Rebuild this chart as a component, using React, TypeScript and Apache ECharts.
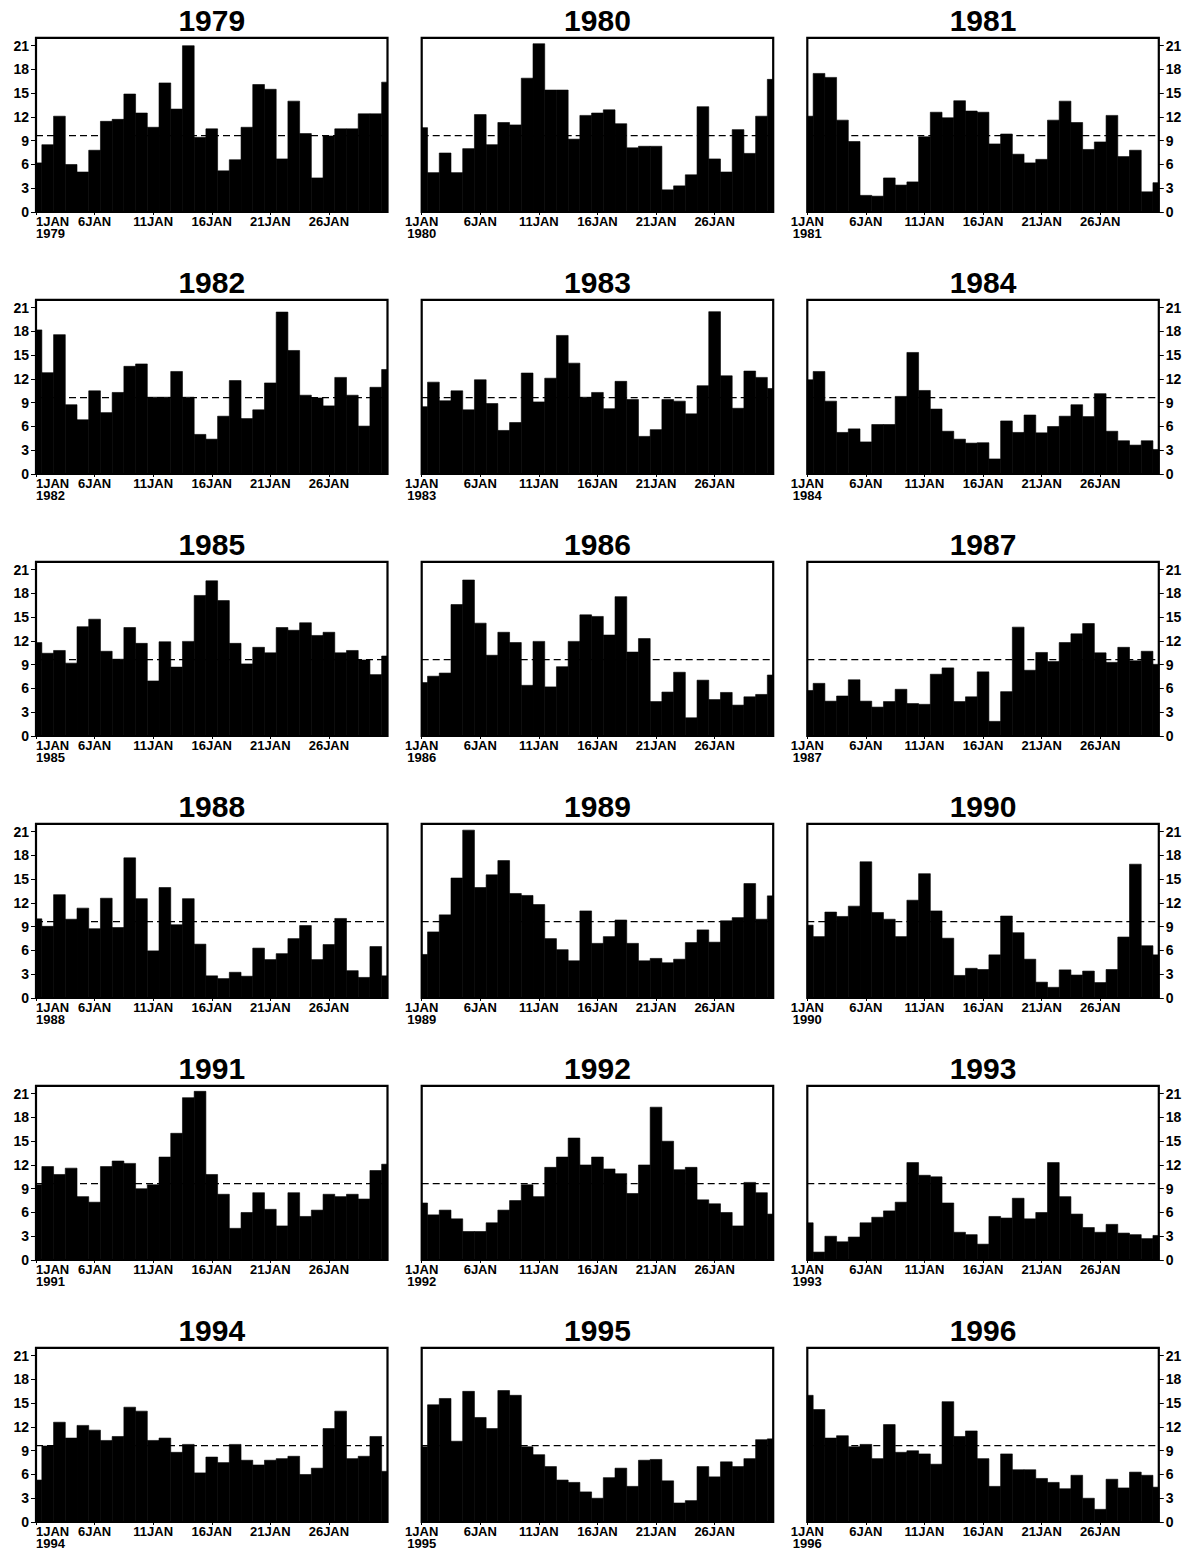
import React, { useEffect, useRef } from "react";
import * as echarts from "echarts";

// ---------- data ----------
const DAYS = [1, 2, 3, 4, 5, 6, 7, 8, 9, 10, 11, 12, 13, 14, 15, 16, 17, 18, 19, 20, 21, 22, 23, 24, 25, 26, 27, 28, 29, 30, 31];
const X_TICKS = [1, 6, 11, 16, 21, 26];
const X_TICK_LABELS = ["1JAN", "6JAN", "11JAN", "16JAN", "21JAN", "26JAN"];
const Y_TICKS = [0, 3, 6, 9, 12, 15, 18, 21];
const CLIM_MEAN = 9.65;
const YEARS = ["1979", "1980", "1981", "1982", "1983", "1984", "1985", "1986", "1987", "1988", "1989", "1990", "1991", "1992", "1993", "1994", "1995", "1996"];

const v1979 = [6.2, 8.5, 12.1, 6.0, 5.05, 7.8, 11.45, 11.7, 14.9, 12.5, 10.7, 16.3, 13.0, 21.0, 9.43, 10.5, 5.2, 6.6, 10.7, 16.1, 15.5, 6.7, 14.0, 9.9, 4.3, 9.6, 10.5, 10.5, 12.4, 12.4, 16.4];
const v1980 = [10.65, 4.97, 7.45, 4.97, 8.0, 12.3, 8.5, 11.3, 11.0, 16.9, 21.25, 15.4, 15.4, 9.2, 12.2, 12.5, 12.9, 11.15, 8.1, 8.3, 8.3, 2.8, 3.3, 4.7, 13.3, 6.7, 5.05, 10.4, 7.4, 12.1, 16.75];
const v1981 = [12.1, 17.5, 17.0, 11.6, 8.9, 2.1, 2.0, 4.3, 3.4, 3.8, 9.5, 12.6, 11.9, 14.05, 12.75, 12.6, 8.6, 9.85, 7.3, 6.2, 6.65, 11.6, 14.0, 11.3, 7.9, 8.85, 12.2, 7.0, 7.8, 2.55, 3.7];
const v1982 = [18.2, 12.8, 17.6, 8.75, 6.85, 10.5, 7.75, 10.3, 13.6, 13.9, 9.7, 9.7, 12.95, 9.7, 5.0, 4.4, 7.3, 11.8, 7.0, 8.1, 11.5, 20.45, 15.6, 9.95, 9.6, 8.6, 12.2, 9.95, 6.05, 10.95, 13.2];
const v1983 = [8.5, 11.6, 9.25, 10.5, 8.1, 11.9, 8.9, 5.5, 6.5, 12.75, 9.1, 12.1, 17.5, 14.0, 9.7, 10.3, 8.25, 11.7, 9.4, 4.75, 5.6, 9.4, 9.2, 7.6, 11.15, 20.5, 12.4, 8.3, 13.0, 12.2, 10.8];
const v1984 = [11.9, 12.95, 9.2, 5.25, 5.7, 4.05, 6.25, 6.25, 9.8, 15.35, 10.55, 8.2, 5.4, 4.4, 3.9, 3.95, 1.9, 6.7, 5.25, 7.45, 5.2, 6.0, 7.3, 8.75, 7.25, 10.15, 5.4, 4.2, 3.65, 4.2, 3.1];
const v1985 = [11.8, 10.45, 10.8, 9.2, 13.8, 14.75, 10.7, 9.7, 13.7, 11.7, 6.95, 11.9, 8.7, 11.95, 17.75, 19.6, 17.1, 11.7, 9.1, 11.2, 10.5, 13.7, 13.35, 14.3, 12.7, 13.1, 10.5, 10.8, 9.6, 7.75, 10.1];
const v1986 = [6.75, 7.55, 7.95, 16.6, 19.7, 14.25, 10.2, 13.1, 11.8, 6.4, 11.95, 6.2, 8.75, 11.95, 15.3, 15.1, 12.75, 17.6, 10.6, 12.3, 4.35, 5.55, 8.05, 2.3, 7.05, 4.6, 5.5, 3.9, 4.95, 5.25, 7.7];
const v1987 = [5.75, 6.65, 4.4, 5.05, 7.1, 4.4, 3.65, 4.35, 5.9, 4.1, 4.0, 7.8, 8.6, 4.35, 4.95, 8.1, 1.85, 5.6, 13.75, 8.3, 10.55, 9.4, 11.8, 12.9, 14.2, 10.5, 9.3, 11.2, 9.5, 10.7, 9.05];
const v1988 = [10.0, 9.05, 13.05, 9.95, 11.35, 8.75, 12.6, 8.9, 17.7, 12.55, 5.95, 13.95, 9.25, 12.55, 6.8, 2.8, 2.45, 3.25, 2.75, 6.3, 4.85, 5.6, 7.5, 9.15, 4.85, 6.75, 10.05, 3.45, 2.6, 6.5, 2.8];
const v1989 = [5.5, 8.35, 10.5, 15.15, 21.2, 13.95, 15.55, 17.35, 13.2, 12.95, 11.8, 7.5, 6.1, 4.7, 11.0, 6.9, 7.75, 9.85, 6.9, 4.7, 5.0, 4.45, 4.9, 7.0, 8.6, 7.05, 9.75, 10.15, 14.45, 9.95, 12.9];
const v1990 = [9.2, 7.75, 10.85, 10.3, 11.6, 17.2, 10.8, 9.95, 7.75, 12.35, 15.7, 11.0, 7.55, 2.85, 3.75, 3.6, 5.45, 10.35, 8.25, 4.9, 2.0, 1.35, 3.55, 2.9, 3.4, 1.95, 3.6, 7.7, 16.9, 6.6, 5.45];
const v1991 = [9.5, 11.8, 10.8, 11.6, 8.0, 7.3, 11.8, 12.5, 12.2, 9.0, 9.5, 13.0, 16.0, 20.5, 21.3, 10.8, 8.3, 4.0, 6.0, 8.5, 6.4, 4.3, 8.5, 5.5, 6.3, 8.3, 8.0, 8.3, 7.7, 11.3, 12.1];
const v1992 = [7.2, 5.7, 6.3, 5.2, 3.6, 3.6, 4.7, 6.3, 7.5, 9.5, 8.0, 11.7, 13.0, 15.4, 12.0, 13.0, 11.5, 10.9, 8.4, 12.0, 19.3, 15.0, 11.4, 11.7, 7.6, 7.1, 6.0, 4.3, 9.8, 8.5, 5.8];
const v1993 = [4.7, 1.0, 3.0, 2.3, 2.9, 4.7, 5.4, 6.2, 7.3, 12.3, 10.7, 10.5, 7.2, 3.5, 3.2, 2.0, 5.5, 5.3, 7.8, 5.2, 6.0, 12.3, 8.0, 5.8, 4.1, 3.5, 4.5, 3.4, 3.2, 2.7, 3.1];
const v1994 = [5.3, 9.6, 12.6, 10.6, 12.2, 11.6, 10.3, 10.8, 14.5, 14.0, 10.3, 10.6, 8.8, 9.8, 6.2, 8.2, 7.5, 9.8, 7.8, 7.2, 7.8, 8.0, 8.3, 6.0, 6.8, 11.8, 14.0, 8.0, 8.3, 10.8, 6.4];
const v1995 = [9.5, 14.8, 15.6, 10.2, 16.5, 13.2, 11.8, 16.6, 16.0, 9.5, 8.5, 7.0, 5.3, 5.0, 3.8, 3.0, 5.6, 6.8, 4.5, 7.8, 7.9, 5.2, 2.4, 2.7, 7.0, 5.7, 7.6, 7.0, 8.0, 10.4, 10.5];
const v1996 = [16.0, 14.2, 10.6, 10.9, 9.5, 9.8, 8.0, 12.3, 8.8, 9.0, 8.6, 7.3, 15.2, 10.8, 11.5, 8.0, 4.5, 8.6, 6.6, 6.6, 5.5, 5.0, 4.2, 5.9, 3.0, 1.6, 5.4, 4.3, 6.3, 5.9, 4.4];

const VALUES = [v1979, v1980, v1981, v1982, v1983, v1984, v1985, v1986, v1987, v1988, v1989, v1990, v1991, v1992, v1993, v1994, v1995, v1996];

// ---------- layout ----------
const W = 1185;
const H = 1559;
const COL_LEFT = [36, 421.7, 807.3];
const GRID_W = 351.5;
const ROW_TOP0 = 37.8;
const ROW_STEP = 262;
const GRID_H = 174.2;
const LABEL_FONT = "'Liberation Sans Narrow', 'Liberation Sans', Arial, sans-serif";
const TITLE_FONT = "'Liberation Sans', Arial, sans-serif";

function buildOption() {
  const grid: any[] = [];
  const xAxis: any[] = [];
  const yAxis: any[] = [];
  const series: any[] = [];
  const graphic: any[] = [];

  YEARS.forEach((year, i) => {
    const col = i % 3;
    const row = Math.floor(i / 3);
    const left = COL_LEFT[col];
    const top = ROW_TOP0 + row * ROW_STEP;
    grid.push({
      left,
      top,
      width: GRID_W,
      height: GRID_H,
      show: true,
      borderColor: "#000",
      borderWidth: 2.2,
      backgroundColor: "transparent",
      containLabel: false,
      outerBoundsMode: "none",
    });
    xAxis.push({
      type: "value",
      gridIndex: i,
      min: 1,
      max: 31,
      axisLine: { show: false },
      splitLine: { show: false },
      axisTick: {
        show: true,
        customValues: X_TICKS,
        length: 3,
        lineStyle: { color: "#000", width: 1 },
      },
      axisLabel: {
        show: true,
        customValues: X_TICKS,
        margin: 3,
        color: "#000",
        fontFamily: LABEL_FONT,
        fontWeight: "bold",
        fontSize: 13,
        lineHeight: 12,
        alignMinLabel: col === 0 ? "left" : "center",
        formatter: (v: number) => {
          const k = X_TICKS.indexOf(v);
          if (k < 0) return "";
          return k === 0 ? X_TICK_LABELS[k] + "\n" + year : X_TICK_LABELS[k];
        },
      },
    });
    const showY = col !== 1;
    yAxis.push({
      type: "value",
      gridIndex: i,
      min: 0,
      max: 22,
      position: col === 2 ? "right" : "left",
      axisLine: { show: false },
      splitLine: { show: false },
      axisTick: {
        show: showY,
        customValues: Y_TICKS,
        length: 5,
        lineStyle: { color: "#000", width: 1 },
      },
      axisLabel: {
        show: showY,
        customValues: Y_TICKS,
        margin: 7,
        color: "#000",
        fontFamily: LABEL_FONT,
        fontWeight: "bold",
        fontSize: 14,
      },
    });
    const vals = VALUES[i];
    series.push({
      type: "custom",
      xAxisIndex: i,
      yAxisIndex: i,
      data: DAYS.map((d, j) => [d, vals[j]]),
      encode: { x: 0, y: 1 },
      renderItem: (params: any, api: any) => {
        const d = api.value(0);
        const v = api.value(1);
        const p0 = api.coord([d - 0.5, v]);
        const p1 = api.coord([d + 0.5, 0]);
        const cs = params.coordSys;
        const rect = echarts.graphic.clipRectByRect(
          { x: p0[0], y: p0[1], width: p1[0] - p0[0], height: p1[1] - p0[1] },
          { x: cs.x, y: cs.y, width: cs.width, height: cs.height }
        );
        if (!rect) return null;
        return {
          type: "rect",
          shape: rect,
          style: { fill: "#000", stroke: "#000", lineWidth: 0.6 },
        };
      },
      z: 2,
    });
    series.push({
      type: "line",
      xAxisIndex: i,
      yAxisIndex: i,
      data: [
        [1, CLIM_MEAN],
        [31, CLIM_MEAN],
      ],
      showSymbol: false,
      symbol: "none",
      silent: true,
      lineStyle: { color: "#000", width: 1.2, type: [7, 4] },
      z: 3,
    });
    graphic.push({
      type: "text",
      x: left + GRID_W / 2,
      y: 20 + row * ROW_STEP,
      style: {
        text: year,
        textAlign: "center",
        textVerticalAlign: "middle",
        fill: "#000",
        font: `bold 30px ${TITLE_FONT}`,
      },
    });
  });

  return {
    animation: false,
    backgroundColor: "#fff",
    grid,
    xAxis,
    yAxis,
    series,
    graphic,
  };
}

export default function App() {
  const ref = useRef<HTMLDivElement>(null);
  useEffect(() => {
    if (!ref.current) return;
    const chart = echarts.init(ref.current, undefined, { renderer: "svg", width: W, height: H });
    chart.setOption(buildOption() as any);
    return () => {
      chart.dispose();
    };
  }, []);
  return (
    <div
      ref={ref}
      style={{ position: "absolute", left: 0, top: 0, width: W, height: H, background: "#fff" }}
    />
  );
}
